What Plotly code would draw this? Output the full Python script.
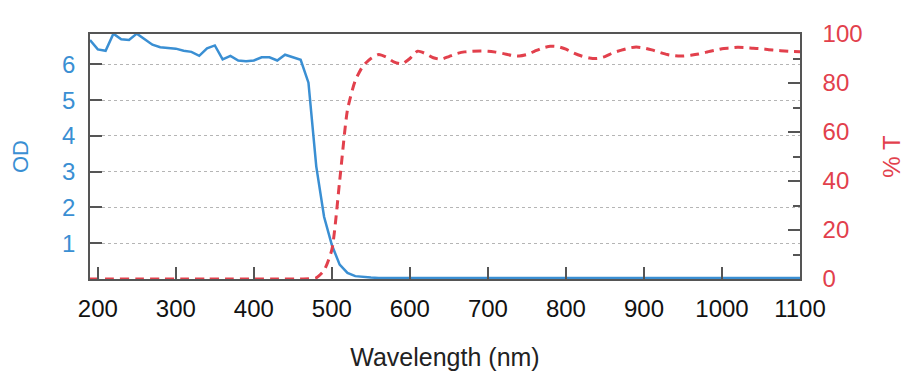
import plotly.graph_objects as go

# ---- data ----
wavelength_od = [190, 200, 210, 220, 230, 240, 250, 260, 270, 280, 290, 300, 310, 320, 330,
                 340, 350, 360, 370, 380, 390, 400, 410, 420, 430, 440, 450, 460, 470, 480,
                 490, 500, 510, 520, 530, 540, 550, 560, 570, 580, 590, 600, 620, 640, 660,
                 680, 700, 720, 740, 760, 780, 800, 820, 840, 860, 880, 900, 920, 940, 960,
                 980, 1000, 1020, 1040, 1060, 1080, 1100]
od_values = [6.68, 6.42, 6.38, 6.86, 6.70, 6.68, 6.86, 6.70, 6.55, 6.48, 6.45, 6.44, 6.38, 6.35, 6.24,
             6.45, 6.53, 6.14, 6.24, 6.11, 6.09, 6.11, 6.20, 6.20, 6.11, 6.27, 6.20, 6.13, 5.49, 3.15,
             1.74, 0.95, 0.40, 0.17, 0.08, 0.05, 0.04, 0.03, 0.03, 0.04, 0.04, 0.05, 0.04, 0.03, 0.04,
             0.03, 0.03, 0.04, 0.03, 0.03, 0.04, 0.03, 0.03, 0.03, 0.04, 0.03, 0.03, 0.03, 0.04, 0.03,
             0.03, 0.03, 0.03, 0.03, 0.03, 0.03, 0.03]

wavelength_t = [190, 220, 250, 280, 310, 340, 370, 400, 430, 460, 480, 490, 500, 510, 520,
                530, 540, 550, 560, 570, 580, 590, 600, 610, 620, 630, 640, 650, 660, 670,
                680, 690, 700, 710, 720, 730, 740, 750, 760, 770, 780, 790, 800, 810, 820,
                830, 840, 850, 860, 870, 880, 890, 900, 910, 920, 930, 940, 950, 960, 970,
                980, 990, 1000, 1010, 1020, 1030, 1040, 1050, 1060, 1070, 1080, 1090, 1100]
t_values = [0, 0, 0, 0, 0, 0, 0, 0, 0, 0, 0.5, 3.5, 12, 40, 69,
            81, 87, 90, 91.6, 90.5, 88.5, 87.8, 90, 93, 92, 90.3, 89.7, 90.8, 92, 92.7,
            93, 93.1, 93, 92.6, 92, 91.3, 91, 91.6, 93, 94.3, 95, 94.8, 93.8, 92.2, 91,
            90.2, 90, 90.8, 92.3, 93.3, 94.2, 94.7, 94.3, 93.5, 92.5, 91.6, 91.1, 91, 91.3, 91.8,
            92.6, 93.3, 94, 94.3, 94.6, 94.5, 94.2, 94, 93.6, 93.3, 93.1, 92.9, 92.8]

x_ticks = [200, 300, 400, 500, 600, 700, 800, 900, 1000, 1100]
od_ticks = [1, 2, 3, 4, 5, 6]
t_ticks = [0, 20, 40, 60, 80, 100]

BLUE = "#3a8fd3"
RED = "#e2404c"
AXIS = "#555555"
FONT = "Liberation Sans, Arial, sans-serif"

fig = go.Figure()
fig.add_trace(go.Scatter(x=wavelength_od, y=od_values, mode="lines",
                         line=dict(color=BLUE, width=2.5), yaxis="y", showlegend=False))
fig.add_trace(go.Scatter(x=wavelength_t, y=t_values, mode="lines",
                         line=dict(color=RED, width=3, dash="9px,6px", shape="spline", smoothing=0.6),
                         yaxis="y2", showlegend=False))

fig.update_layout(
    width=910, height=372,
    margin=dict(l=78, r=118, t=12, b=101),
    paper_bgcolor="white", plot_bgcolor="white",
    font=dict(family=FONT),
    xaxis=dict(range=[190, 1100], tickvals=x_ticks, ticks="inside", ticklen=12,
               tickcolor=AXIS, tickwidth=1.5, showline=True, linecolor=AXIS, linewidth=1.5,
               mirror=True, showgrid=False, zeroline=False,
               tickfont=dict(size=24, color="#111111", family=FONT), ticklabelstandoff=7,
               title=dict(text="Wavelength (nm)", font=dict(size=25, color="#222222", family=FONT),
                          standoff=28)),
    yaxis=dict(range=[0, 6.85], tickvals=od_ticks, ticks="inside", ticklen=12,
               tickcolor=AXIS, tickwidth=1.5, showline=True, linecolor=AXIS, linewidth=1.5,
               showgrid=True, gridcolor="#b5b5b5", griddash="dot", gridwidth=1, zeroline=False,
               tickfont=dict(size=24, color=BLUE, family=FONT), ticklabelstandoff=8,
               title=dict(text="OD", font=dict(size=22, color=BLUE, family=FONT), standoff=27)),
    yaxis2=dict(range=[0, 100], tickvals=t_ticks, overlaying="y", side="right",
                ticks="inside", ticklen=12, tickcolor=AXIS, tickwidth=1.5,
                minor=dict(tickvals=[10, 30, 50, 70, 90], ticks="inside", ticklen=7,
                           tickcolor=AXIS, tickwidth=1.5),
                showline=True, linecolor=AXIS, linewidth=1.5, showgrid=False, zeroline=False,
                tickfont=dict(size=24, color=RED, family=FONT), ticklabelstandoff=16,
                title=dict(text="% T", font=dict(size=24, color=RED, family=FONT), standoff=22)),
)

fig.write_html("out.html")
